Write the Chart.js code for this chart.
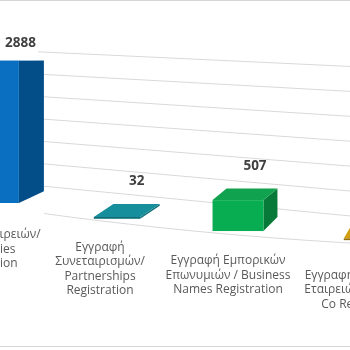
<!DOCTYPE html>
<html>
<head>
<meta charset="utf-8">
<style>
  html, body { margin: 0; padding: 0; background: #fff; }
  #wrap { position: relative; width: 350px; height: 350px; overflow: hidden; }
  #chart { position: absolute; left: 0; top: 0; }
</style>
</head>
<body>
<div id="wrap"><canvas id="chart" width="350" height="350"></canvas></div>

<script src="https://cdn.jsdelivr.net/npm/chart.js"></script>
<script>
const categories = [
  ['Εγγραφή Εταιρειών/', 'Companies', 'Registration'],
  ['Εγγραφή', 'Συνεταιρισμών/', 'Partnerships', 'Registration'],
  ['Εγγραφή Εμπορικών', 'Επωνυμιών / Business', 'Names Registration'],
  ['Εγγραφή Αλλοδαπών', 'Εταιρειών / Overseas', 'Co Registration']
];
const registrations = [2888, 32, 507, 25];
const yTicks = [0, 500, 1000, 1500, 2000, 2500, 3000];

const frontColors = ['#0b6fc1', '#158c99', '#08ad52', '#cc9a06'];
const sideColors  = ['#034d88', '#0f6d77', '#077a39', '#94700a'];
const topColors   = ['#1878c6', '#178e9b', '#10a24f', '#d2a00e'];

// perspective helpers (page pixels); u is the category index along the floor
const labelX = u => -16 + 110 * u + 6 * u * u - 0.7 * u * (u - 1) * (u - 2);
const spacing = u => 110 + 12 * u;
const barX = u => -2 + 119 * u + u * (u - 1) + 1.75 * u * (u - 1) * (u - 2);
const depthX = u => 25 - 5.5 * u;
const grow = u => 1 + 0.12 * u;
const floorY = x => 203 + 0.148 * (x + 2) - 0.00013 * (x + 2) * (x + 2);
const riseY = y => -0.08 * (y - 55);
const wallBase = x => 182 + 0.097 * x;
const wallTop = x => 50 + 0.047 * x;

const columns3d = {
  id: 'columns3d',
  beforeDatasetDraw() { return false; },
  beforeDatasetsDraw(chart) {
    const ctx = chart.ctx;
    const ys = chart.scales.y;
    ctx.save();
    ctx.strokeStyle = '#d9d9d9';
    ctx.lineWidth = 1;
    // back wall grid
    yTicks.forEach(v => {
      const f = (ys.bottom - ys.getPixelForValue(v)) / (ys.bottom - ys.getPixelForValue(3000));
      const y0 = wallBase(38) - f * (wallBase(38) - wallTop(38));
      const y1 = wallBase(360) - f * (wallBase(360) - wallTop(360));
      ctx.beginPath();
      ctx.moveTo(38, y0);
      ctx.lineTo(360, y1);
      ctx.stroke();
    });
    // front edge of the floor
    ctx.beginPath();
    for (let x = 44; x <= 360; x += 8) {
      const y = floorY(x) + 4;
      if (x === 44) ctx.moveTo(x, y); else ctx.lineTo(x, y);
    }
    ctx.stroke();
    // frame lines
    ctx.strokeStyle = '#d6d6d6';
    ctx.beginPath();
    ctx.moveTo(0, 0.5); ctx.lineTo(350, 0.5);
    ctx.moveTo(0, 346.5); ctx.lineTo(350, 346.5);
    ctx.stroke();
    ctx.restore();
  },
  afterDatasetsDraw(chart) {
    const ctx = chart.ctx;
    const xs = chart.scales.x;
    const p0 = xs.getPixelForValue(0);
    const bin = xs.getPixelForValue(1) - p0;
    const meta = chart.getDatasetMeta(0);
    ctx.save();
    meta.data.forEach((bar, i) => {
      const { x, y, base, width } = bar.getProps(['x', 'y', 'base', 'width'], true);
      const u = (x - p0) / bin;
      const xc = barX(u);
      const w = width / bin * spacing(u);
      const h = Math.max((base - y) * grow(u), 1.5);
      const x0 = xc - w / 2, x1 = xc + w / 2;
      const yb = floorY(xc), yt = yb - h;
      const d = depthX(u), rt = riseY(yt), rb = riseY(yb);

      // side
      ctx.fillStyle = sideColors[i];
      ctx.beginPath();
      ctx.moveTo(x1, yt); ctx.lineTo(x1 + d, yt + rt);
      ctx.lineTo(x1 + d, yb + rb); ctx.lineTo(x1, yb);
      ctx.closePath(); ctx.fill();
      // top
      ctx.fillStyle = topColors[i];
      ctx.beginPath();
      ctx.moveTo(x0, yt); ctx.lineTo(x1, yt);
      ctx.lineTo(x1 + d, yt + rt); ctx.lineTo(x0 + d, yt + rt);
      ctx.closePath(); ctx.fill();
      // front
      ctx.fillStyle = h < 3 ? sideColors[i] : frontColors[i];
      ctx.fillRect(x0, yt, w, h);

      // value label
      ctx.fillStyle = '#404040';
      ctx.font = 'bold 13.5px "Open Sans", sans-serif';
      ctx.textAlign = 'center';
      ctx.textBaseline = 'middle';
      const ly = yt + rt - 17 - 0.04 * (yt - 60);
      ctx.fillText(String(registrations[i]), xc + d / 2 + 10, ly);
    });

    // category labels along the floor
    ctx.fillStyle = '#595959';
    ctx.font = '12px "Open Sans", sans-serif';
    ctx.textAlign = 'center';
    ctx.textBaseline = 'middle';
    chart.data.labels.forEach((lines, i) => {
      const u = (xs.getPixelForValue(i) - p0) / bin;
      const cx = labelX(u);
      const top = 236.5 + 0.107 * cx;
      lines.forEach((t, k) => ctx.fillText(t, cx, top + k * 14.5));
    });
    ctx.restore();
  }
};

new Chart(document.getElementById('chart'), {
  type: 'bar',
  data: {
    labels: categories,
    datasets: [{
      data: registrations,
      backgroundColor: frontColors,
      categoryPercentage: 1,
      barPercentage: 0.38
    }]
  },
  options: {
    responsive: false,
    animation: false,
    layout: { padding: { left: 0, right: 0, top: 55, bottom: 147.5 } },
    plugins: { legend: { display: false }, tooltip: { enabled: false } },
    scales: {
      x: { display: false },
      y: { display: false, min: 0, max: 3000 }
    }
  },
  plugins: [columns3d]
});
</script>
</body>
</html>
